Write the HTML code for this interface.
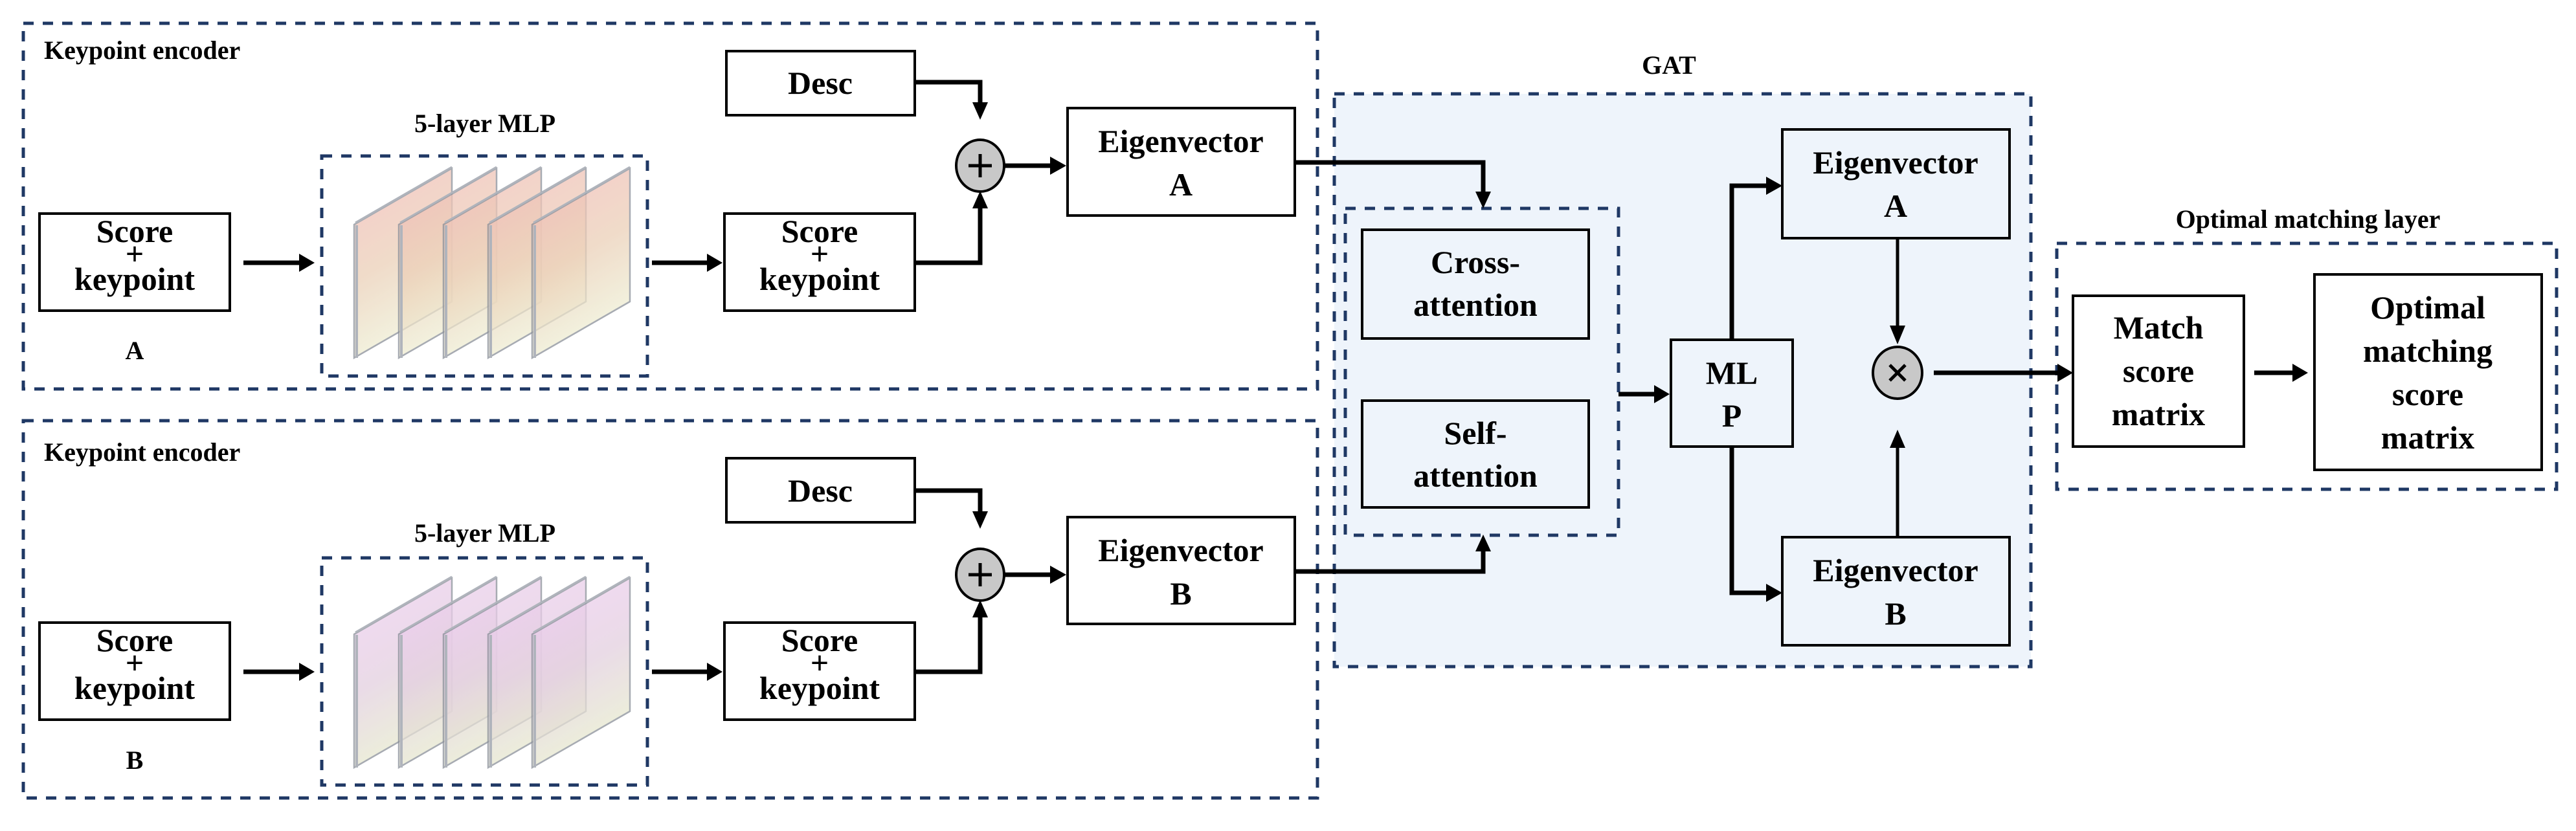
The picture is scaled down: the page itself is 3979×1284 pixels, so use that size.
<!DOCTYPE html>
<html><head><meta charset="utf-8"><style>
html,body{margin:0;padding:0;background:#fff;}
svg{display:block;}
svg text{font-family:"Liberation Serif","Times New Roman",serif !important;font-weight:bold;fill:#000;}
</style></head><body>
<svg width="3979" height="1284" viewBox="0 0 3979 1284" xmlns="http://www.w3.org/2000/svg" font-family="Liberation Serif, serif">
<defs>
<linearGradient id="gA" x1="0" y1="0" x2="0.3" y2="1">
<stop offset="0" stop-color="#f2b8b8"/><stop offset="0.55" stop-color="#ecd0b8"/><stop offset="1" stop-color="#eef2d8"/></linearGradient>
<linearGradient id="gB" x1="0" y1="0" x2="0.3" y2="1">
<stop offset="0" stop-color="#f0ccf4"/><stop offset="0.55" stop-color="#e4cfe0"/><stop offset="1" stop-color="#e6eccc"/></linearGradient>
<g id="layer">
<polygon points="0,87 151,0 151,206 0,293" opacity="0.75" stroke="#8a8f99" stroke-width="2.5"/>
<line x1="4" y1="88" x2="4" y2="293" stroke="#b0b4bc" stroke-width="4"/>
<line x1="2" y1="84" x2="151" y2="-2" stroke="#b0b4bc" stroke-width="3"/>
</g>
</defs>
<g fill="none" stroke="#1f3864" stroke-width="5" stroke-dasharray="16 14">
<rect x="36" y="36" width="1999" height="565"/>
<rect x="36" y="650" width="1999" height="583"/>
<rect x="497" y="241" width="503" height="340"/>
<rect x="497" y="862" width="503" height="351"/>
<rect x="2061" y="145" width="1076" height="885" fill="#eef4fb"/>
<rect x="2078" y="322" width="422" height="505"/>
<rect x="3177" y="376" width="772" height="380"/>
</g>
<g fill="url(#gA)">
<use href="#layer" x="547" y="260"/><use href="#layer" x="616" y="260"/><use href="#layer" x="685" y="260"/><use href="#layer" x="754" y="260"/><use href="#layer" x="822" y="260"/>
</g>
<g fill="url(#gB)">
<use href="#layer" x="547" y="893"/><use href="#layer" x="616" y="893"/><use href="#layer" x="685" y="893"/><use href="#layer" x="754" y="893"/><use href="#layer" x="822" y="893"/>
</g>
<g fill="#fff" stroke="#000" stroke-width="4">
<rect x="61" y="330" width="294" height="150"/>
<rect x="1119" y="330" width="294" height="150"/>
<rect x="1122" y="79" width="291" height="99"/>
<rect x="1649" y="167" width="351" height="166"/>
<rect x="61" y="962" width="294" height="150"/>
<rect x="1119" y="962" width="294" height="150"/>
<rect x="1122" y="708" width="291" height="99"/>
<rect x="1649" y="799" width="351" height="165"/>
<rect x="3202" y="457" width="264" height="233"/>
<rect x="3575" y="424" width="351" height="302"/>
</g>
<g fill="#eef4fb" stroke="#000" stroke-width="4">
<rect x="2104" y="355" width="350" height="168"/>
<rect x="2104" y="619" width="350" height="165"/>
<rect x="2581" y="525" width="188" height="165"/>
<rect x="2753" y="200" width="351" height="168"/>
<rect x="2753" y="830" width="351" height="167"/>
</g>
<g fill="#c8c8c8" stroke="#000" stroke-width="4">
<ellipse cx="1514" cy="256" rx="37" ry="40"/>
<ellipse cx="1514" cy="888" rx="37" ry="40"/>
<ellipse cx="2931" cy="576" rx="38" ry="40"/>
</g>
<g stroke="#000" stroke-width="5">
<line x1="1496" y1="256" x2="1532" y2="256"/><line x1="1514" y1="238" x2="1514" y2="274"/>
<line x1="1496" y1="888" x2="1532" y2="888"/><line x1="1514" y1="870" x2="1514" y2="906"/>
<line x1="2919" y1="564" x2="2943" y2="588"/><line x1="2943" y1="564" x2="2919" y2="588"/>
</g>
<g fill="none" stroke="#000" stroke-width="7">
<line x1="376" y1="406" x2="462" y2="406"/>
<line x1="1007" y1="406" x2="1092" y2="406"/>
<polyline points="1413,127 1514,127 1514,160"/>
<polyline points="1413,406 1514,406 1514,320"/>
<line x1="1552" y1="256" x2="1625" y2="256"/>
<line x1="376" y1="1038" x2="462" y2="1038"/>
<line x1="1007" y1="1038" x2="1092" y2="1038"/>
<polyline points="1413,758 1514,758 1514,792"/>
<polyline points="1413,1038 1514,1038 1514,952"/>
<line x1="1552" y1="888" x2="1625" y2="888"/>
<polyline points="2000,251 2291,251 2291,298"/>
<polyline points="2000,883 2291,883 2291,850"/>
<line x1="2500" y1="609" x2="2557" y2="609"/>
<polyline points="2675,525 2675,287 2730,287"/>
<polyline points="2675,690 2675,916 2730,916"/>
<line x1="2987" y1="576" x2="3180" y2="576"/>
<line x1="3482" y1="576" x2="3543" y2="576"/>
</g>
<g fill="none" stroke="#000" stroke-width="5">
<line x1="2931" y1="368" x2="2931" y2="505"/>
<line x1="2931" y1="830" x2="2931" y2="690"/>
</g>
<g fill="#000">
<polygon points="462,392 486,406 462,420"/>
<polygon points="1092,392 1116,406 1092,420"/>
<polygon points="1502,158 1526,158 1514,185"/>
<polygon points="1502,322 1526,322 1514,295"/>
<polygon points="1622,242 1647,256 1622,270"/>
<polygon points="462,1024 486,1038 462,1052"/>
<polygon points="1092,1024 1116,1038 1092,1052"/>
<polygon points="1502,790 1526,790 1514,817"/>
<polygon points="1502,954 1526,954 1514,927"/>
<polygon points="1622,874 1647,888 1622,902"/>
<polygon points="2279,296 2303,296 2291,322"/>
<polygon points="2279,852 2303,852 2291,826"/>
<polygon points="2555,595 2579,609 2555,623"/>
<polygon points="2728,273 2753,287 2728,301"/>
<polygon points="2728,902 2753,916 2728,930"/>
<polygon points="2919,503 2943,503 2931,532"/>
<polygon points="2919,692 2943,692 2931,664"/>
<polygon points="3178,562 3202,576 3178,590"/>
<polygon points="3541,562 3565,576 3541,590"/>
</g>
<g font-size="40" font-family="Liberation Serif, serif" font-weight="bold">
<text x="68" y="91">Keypoint encoder</text>
<text x="68" y="712">Keypoint encoder</text>
<text x="749" y="204" text-anchor="middle">5-layer MLP</text>
<text x="749" y="837" text-anchor="middle">5-layer MLP</text>
<text x="208" y="555" text-anchor="middle">A</text>
<text x="208" y="1188" text-anchor="middle">B</text>
<text x="2578" y="114" text-anchor="middle">GAT</text>
<text x="3565" y="352" text-anchor="middle">Optimal matching layer</text>
</g>
<g font-size="50" text-anchor="middle" font-family="Liberation Serif, serif" font-weight="bold">
<text x="208" y="374">Score</text><text x="208" y="409">+</text><text x="208" y="448">keypoint</text>
<text x="1266" y="374">Score</text><text x="1266" y="409">+</text><text x="1266" y="448">keypoint</text>
<text x="1267" y="145">Desc</text>
<text x="1824" y="235">Eigenvector</text><text x="1824" y="302">A</text>
<text x="208" y="1006">Score</text><text x="208" y="1041">+</text><text x="208" y="1080">keypoint</text>
<text x="1266" y="1006">Score</text><text x="1266" y="1041">+</text><text x="1266" y="1080">keypoint</text>
<text x="1267" y="775">Desc</text>
<text x="1824" y="867">Eigenvector</text><text x="1824" y="934">B</text>
<text x="2279" y="422">Cross-</text><text x="2279" y="488">attention</text>
<text x="2279" y="686">Self-</text><text x="2279" y="752">attention</text>
<text x="2675" y="593">ML</text><text x="2675" y="659">P</text>
<text x="2928" y="268">Eigenvector</text><text x="2928" y="335">A</text>
<text x="2928" y="898">Eigenvector</text><text x="2928" y="965">B</text>
<text x="3334" y="523">Match</text><text x="3334" y="590">score</text><text x="3334" y="657">matrix</text>
<text x="3750" y="492">Optimal</text><text x="3750" y="559">matching</text><text x="3750" y="626">score</text><text x="3750" y="693">matrix</text>
</g>
</svg>
</body></html>
